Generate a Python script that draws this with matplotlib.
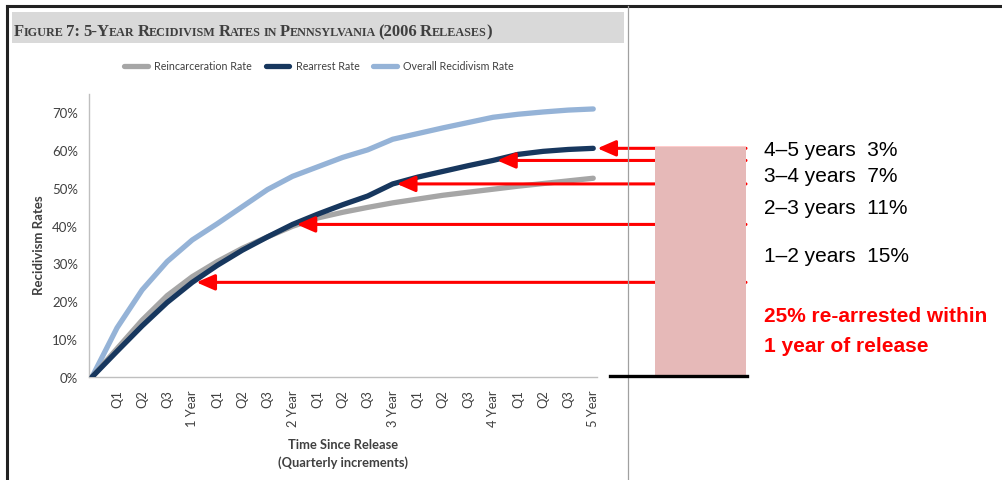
import numpy as np
import matplotlib
matplotlib.use("Agg")
import matplotlib.pyplot as plt
from matplotlib.lines import Line2D
from matplotlib.patches import Rectangle

# quarterly recidivism rates (%) since release, 0 .. 20 quarters
quarters = np.arange(21)
reincarceration = [0, 7.5, 15, 21.5, 26.5, 30.5, 34, 37, 39.8, 42, 43.5, 44.8, 46,
                   47, 48, 48.8, 49.6, 50.4, 51.1, 51.8, 52.5]
rearrest = [0, 6.8, 13.5, 19.7, 25, 29.5, 33.5, 37, 40.3, 43, 45.5, 47.8, 51,
            52.8, 54.3, 55.8, 57.2, 58.8, 59.6, 60.1, 60.4]
overall = [0, 13, 23, 30.5, 36.2, 40.5, 45, 49.5, 53, 55.5, 58, 60, 62.8,
           64.3, 65.8, 67.2, 68.6, 69.4, 70, 70.5, 70.8]

tick_labels = ["Q1", "Q2", "Q3", "1 Year", "Q1", "Q2", "Q3", "2 Year",
               "Q1", "Q2", "Q3", "3 Year", "Q1", "Q2", "Q3", "4 Year",
               "Q1", "Q2", "Q3", "5 Year"]

# yearly increase in the rearrest rate
year_notes = ["4\u20135 years  3%", "3\u20134 years  7%", "2\u20133 years  11%", "1\u20132 years  15%"]
note_y = [150, 176, 209, 257]
year_marks = [20, 16, 12, 8, 4]

W, H = 1002, 481
grey_txt = "#404040"
chart_font = ["Lato", "DejaVu Sans"]


def fx(x):
    return x / W


def fy(y):
    return 1 - y / H


fig = plt.figure(figsize=(W / 100, H / 100), dpi=100)
fig.patch.set_facecolor("white")

# page frame
fig.add_artist(Line2D([fx(7), fx(1002)], [fy(6.5), fy(6.5)], color="#222222", lw=2.2))
fig.add_artist(Line2D([fx(7), fx(7)], [fy(6.5), fy(481)], color="#222222", lw=2.2))
fig.add_artist(Line2D([fx(628), fx(628)], [fy(7), fy(481)], color="#a0a0a0", lw=0.9))

# title bar
fig.add_artist(Rectangle((fx(12), fy(44)), fx(612), 31 / H, transform=fig.transFigure,
                         facecolor="#d9d9d9", edgecolor="none"))

ax = fig.add_axes([fx(89), fy(378), (597 - 89) / W, (378 - 95) / H])
ax.plot(quarters, overall, color="#95b3d7", lw=3.8, solid_capstyle="round",
        label="Overall Recidivism Rate", zorder=2)
ax.plot(quarters, reincarceration, color="#a6a6a6", lw=3.8, solid_capstyle="round",
        label="Reincarceration Rate", zorder=3)
ax.plot(quarters, rearrest, color="#17375e", lw=3.8, solid_capstyle="round",
        label="Rearrest Rate", zorder=4)

ax.set_xlim(-0.12, 20.15)
ax.set_ylim(0, 74.75)
ax.set_yticks(np.arange(0, 71, 10))
ax.set_yticklabels([f"{v}%" for v in range(0, 71, 10)], fontfamily=chart_font,
                   fontsize=9.5, color=grey_txt)
ax.set_xticks(quarters[1:])
ax.set_xticklabels(tick_labels, rotation=90, fontfamily=chart_font, fontsize=9.3,
                   color=grey_txt)
ax.tick_params(axis="both", length=0)
ax.tick_params(axis="x", pad=9)
ax.tick_params(axis="y", pad=8)
for side in ["top", "right"]:
    ax.spines[side].set_visible(False)
for side in ["left", "bottom"]:
    ax.spines[side].set_color("#bfbfbf")
    ax.spines[side].set_linewidth(1)

ax.set_ylabel("Recidivism Rates", fontfamily=chart_font, fontsize=9.5,
              fontweight="bold", color=grey_txt)
ax.yaxis.set_label_coords(-0.087, 0.47)
ax.set_xlabel("Time Since Release\n(Quarterly increments)", fontfamily=chart_font,
              fontsize=9.3, fontweight="bold", color=grey_txt, linespacing=1.55)
ax.xaxis.set_label_coords(0.5, -0.215)
ax.xaxis.label.set_verticalalignment("top")

handles, labels = ax.get_legend_handles_labels()
order = [1, 2, 0]
leg = ax.legend([handles[i] for i in order], [labels[i] for i in order],
                loc="center", bbox_to_anchor=(fx(319), fy(67)),
                bbox_transform=fig.transFigure, ncol=3, frameon=False,
                handlelength=2.2, handletextpad=0.6, columnspacing=1.3,
                prop={"family": chart_font, "size": 7.7})
for t in leg.get_texts():
    t.set_color(grey_txt)

# shaded block and base line beside the chart
fig.add_artist(Rectangle((fx(655), fy(377)), (746 - 655) / W, (377 - 148) / H,
                         transform=fig.transFigure, facecolor="#e6b9b8", edgecolor="none"))
fig.add_artist(Line2D([fx(610), fx(747)], [fy(377), fy(377)], color="black", lw=2.4))

# red arrows pointing at the yearly rearrest rates
for q in year_marks:
    ax.annotate("", xy=(q, rearrest[q]), xycoords="data",
                xytext=(fx(746), rearrest[q]), textcoords=("figure fraction", "data"),
                arrowprops=dict(arrowstyle="-|>,head_length=0.55,head_width=0.24",
                                color="#ff0000", lw=2.2, shrinkA=0, shrinkB=3,
                                mutation_scale=20),
                annotation_clip=False, zorder=6)

for txt, y in zip(year_notes, note_y):
    fig.text(fx(764), fy(y), txt, fontfamily="Liberation Sans", fontsize=15,
             va="center", ha="left", color="black")
fig.text(fx(764), fy(317), "25% re-arrested within", fontfamily="Liberation Sans",
         fontsize=15, fontweight="bold", va="center", ha="left", color="#ff0000")
fig.text(fx(764), fy(346), "1 year of release", fontfamily="Liberation Sans",
         fontsize=15, fontweight="bold", va="center", ha="left", color="#ff0000")


def small_caps(x, y, s, big, small, **kw):
    # draw s in small caps: capitals at full size, lower case as smaller capitals
    r = fig.canvas.get_renderer()
    cur = x
    words = s.split(" ")
    for w in words:
        runs = []
        for ch in w:
            size = small if ch.islower() else big
            if runs and runs[-1][1] == size:
                runs[-1][0] += ch.upper()
            else:
                runs.append([ch.upper(), size])
        for txt, size in runs:
            t = fig.text(cur, y, txt, fontsize=size, transform=None, va="baseline",
                         ha="left", **kw)
            cur += t.get_window_extent(r).width - 0.5
        cur += big * 0.28
    return cur


small_caps(14, H - 36, "Figure 7: 5-Year Recidivism Rates in Pennsylvania (2006 Releases)",
           12, 8.7, fontfamily="Liberation Serif", fontweight="bold", color="#3f3f3f")

fig.savefig("out.png", dpi=100)
